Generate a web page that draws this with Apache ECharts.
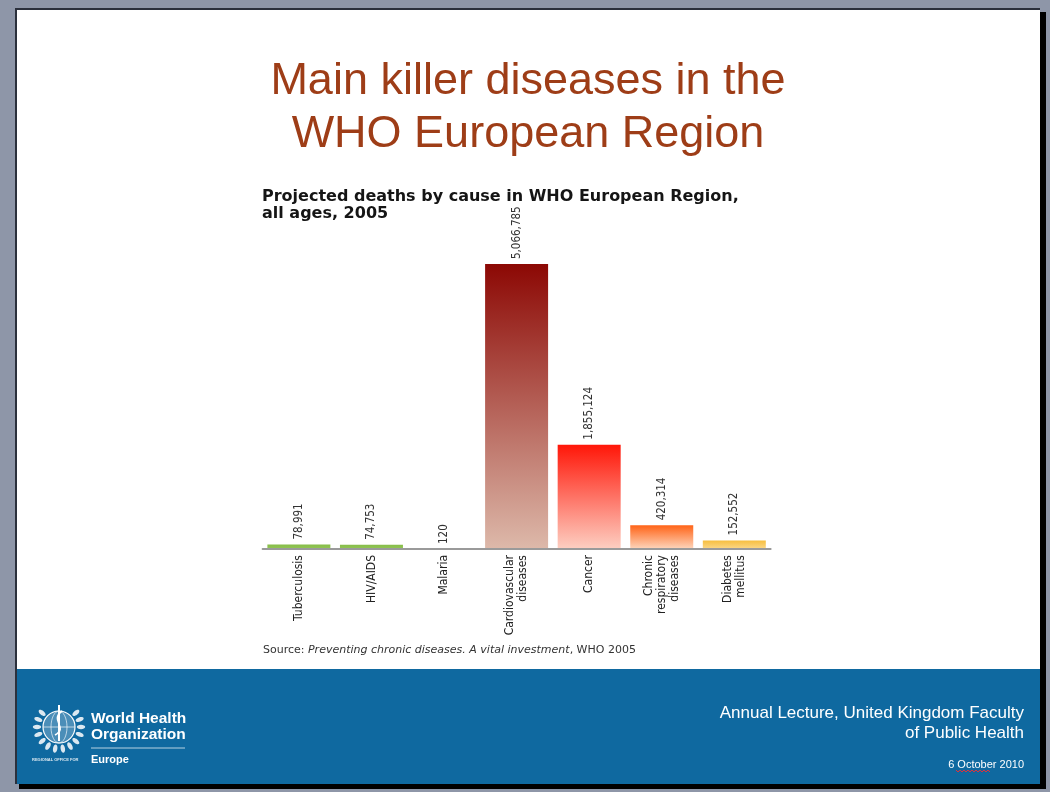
<!DOCTYPE html>
<html>
<head>
<meta charset="utf-8">
<style>
html,body{margin:0;padding:0;background:#8e96a8;}
#chart{width:1050px;height:792px;}
</style>
<script src="https://cdn.jsdelivr.net/npm/echarts@6/dist/echarts.min.js"></script>
</head>
<body>
<div id="chart"></div>
<script>
// ---- data ----
const categories = ['Tuberculosis', 'HIV/AIDS', 'Malaria', 'Cardiovascular\ndiseases', 'Cancer', 'Chronic\nrespiratory\ndiseases', 'Diabetes\nmellitus'];
const deaths = [78991, 74753, 120, 5066785, 1855124, 420314, 152552];
const titleLines = ['Main killer diseases in the', 'WHO European Region'];
const subtitleLines = ['Projected deaths by cause in WHO European Region,', 'all ages, 2005'];
const footerLines = ['Annual Lecture, United Kingdom Faculty', 'of Public Health'];
const footerDate = '6 October 2010';

// ---- styles (gradient top -> bottom per bar) ----
const barGradients = [
  ['#86bd48', '#93c557'],
  ['#86bd48', '#93c557'],
  ['#86bd48', '#93c557'],
  ['#8c0804', '#ddb9aa'],
  ['#ff1608', '#fdcfc2'],
  ['#ff6418', '#fdd6bd'],
  ['#f6be3e', '#fbd889']
];

const narrow = '"Liberation Sans Narrow", "DejaVu Sans Condensed", "Arial Narrow", sans-serif';
const arial = '"Liberation Sans", Arial, Helvetica, sans-serif';

const chart = echarts.init(document.getElementById('chart'), null, {renderer: 'canvas'});

const barData = deaths.map((v, i) => ({
  value: v,
  itemStyle: {
    color: new echarts.graphic.LinearGradient(0, 0, 0, 1, [
      {offset: 0, color: barGradients[i][0]},
      {offset: 1, color: barGradients[i][1]}
    ])
  }
}));

// leaves for the laurel of the logo
const logoCx = 59, logoCy = 727;
const leaves = [];
for (let k = 0; k < 7; k++) {
  const a = (100 + k * 20) * Math.PI / 180;
  [1, -1].forEach(side => {
    const ang = side === 1 ? a : Math.PI - a;
    leaves.push({
      type: 'ellipse',
      shape: {cx: logoCx + Math.cos(ang) * 22, cy: logoCy + Math.sin(ang) * 22, rx: 2.2, ry: 4.2},
      rotation: -(ang - Math.PI / 2),
      originX: logoCx + Math.cos(ang) * 22,
      originY: logoCy + Math.sin(ang) * 22,
      style: {fill: 'rgba(255,255,255,0.85)'},
      z: 20
    });
  });
}

const graphics = [
  // slide frame
  {type: 'rect', shape: {x: 19, y: 12, width: 1027, height: 777}, style: {fill: '#000'}, z: 0},
  {type: 'rect', shape: {x: 15, y: 8, width: 1025, height: 776}, style: {fill: '#2b303c'}, z: 1},
  {type: 'rect', shape: {x: 17, y: 10, width: 1023, height: 774}, style: {fill: '#ffffff'}, z: 2},
  // footer band
  {type: 'rect', shape: {x: 17, y: 669, width: 1023, height: 115}, style: {fill: '#0f69a0'}, z: 3},
  // title
  {type: 'text', x: 528, y: 82, style: {text: titleLines[0], font: '45px ' + arial, fill: '#9e3d17', align: 'center', verticalAlign: 'middle'}, z: 10},
  {type: 'text', x: 528, y: 135, style: {text: titleLines[1], font: '45px ' + arial, fill: '#9e3d17', align: 'center', verticalAlign: 'middle'}, z: 10},
  // chart subtitle
  {type: 'text', x: 262, y: 197, style: {text: subtitleLines[0], font: 'bold 16px "DejaVu Sans", sans-serif', fill: '#151515', align: 'left', verticalAlign: 'middle'}, z: 10},
  {type: 'text', x: 262, y: 214, style: {text: subtitleLines[1], font: 'bold 16px "DejaVu Sans", sans-serif', fill: '#151515', align: 'left', verticalAlign: 'middle'}, z: 10},
  // source
  {type: 'text', x: 263, y: 650, style: {
    text: '{n|Source: }{i|Preventing chronic diseases. A vital investment}{n|, WHO 2005}',
    align: 'left', verticalAlign: 'middle',
    rich: {
      n: {font: '11px "DejaVu Sans", sans-serif', fill: '#333'},
      i: {font: 'italic 11px "DejaVu Sans", sans-serif', fill: '#333'}
    }
  }, z: 10},
  // footer right text
  {type: 'text', x: 1024, y: 713, style: {text: footerLines[0], font: '17px ' + arial, fill: '#ffffff', align: 'right', verticalAlign: 'middle'}, z: 10},
  {type: 'text', x: 1024, y: 733, style: {text: footerLines[1], font: '17px ' + arial, fill: '#ffffff', align: 'right', verticalAlign: 'middle'}, z: 10},
  {type: 'text', x: 1024, y: 765, style: {text: footerDate, font: '11px ' + arial, fill: '#ffffff', align: 'right', verticalAlign: 'middle'}, z: 10},
  // spell-check squiggle under "October"
  {type: 'polyline', shape: {points: [[956,770],[958,772],[960,770],[962,772],[964,770],[966,772],[968,770],[970,772],[972,770],[974,772],[976,770],[978,772],[980,770],[982,772],[984,770],[986,772],[988,770],[990,772]]}, style: {stroke: '#e0303a', lineWidth: 1, fill: null}, z: 11},
  // WHO logo text
  {type: 'text', x: 91, y: 719, style: {text: 'World Health', font: 'bold 15.5px ' + arial, fill: '#ffffff', align: 'left', verticalAlign: 'middle'}, z: 10},
  {type: 'text', x: 91, y: 735, style: {text: 'Organization', font: 'bold 15.5px ' + arial, fill: '#ffffff', align: 'left', verticalAlign: 'middle'}, z: 10},
  {type: 'line', shape: {x1: 91, y1: 748, x2: 185, y2: 748}, style: {stroke: 'rgba(255,255,255,0.7)', lineWidth: 1}, z: 10},
  {type: 'text', x: 91, y: 760, style: {text: 'Europe', font: 'bold 11px ' + arial, fill: '#ffffff', align: 'left', verticalAlign: 'middle'}, z: 10},
  {type: 'text', x: 32, y: 760, style: {text: 'REGIONAL OFFICE FOR', font: 'bold 4px ' + arial, fill: 'rgba(255,255,255,0.85)', align: 'left', verticalAlign: 'middle'}, z: 10},
  // WHO emblem (simplified)
  {type: 'circle', shape: {cx: logoCx, cy: logoCy, r: 16}, style: {fill: 'rgba(255,255,255,0.25)', stroke: '#ffffff', lineWidth: 1.2}, z: 20},
  {type: 'ellipse', shape: {cx: logoCx, cy: logoCy, rx: 8, ry: 16}, style: {fill: null, stroke: 'rgba(255,255,255,0.8)', lineWidth: 0.8}, z: 20},
  {type: 'line', shape: {x1: logoCx - 16, y1: logoCy, x2: logoCx + 16, y2: logoCy}, style: {stroke: 'rgba(255,255,255,0.8)', lineWidth: 0.8}, z: 20},
  {type: 'line', shape: {x1: logoCx, y1: logoCy - 22, x2: logoCx, y2: logoCy + 14}, style: {stroke: '#ffffff', lineWidth: 2}, z: 21},
  {type: 'bezierCurve', shape: {x1: logoCx - 4, y1: logoCy + 8, x2: logoCx + 3, y2: logoCy - 16, cpx1: logoCx + 10, cpy1: logoCy, cpx2: logoCx - 10, cpy2: logoCy - 6}, style: {stroke: '#ffffff', lineWidth: 1.6, fill: null}, z: 21}
].concat(leaves);

const option = {
  animation: false,
  backgroundColor: '#8e96a8',
  grid: {left: 262.6, width: 508, top: 264, bottom: 243, containLabel: false},
  xAxis: {
    type: 'category',
    data: categories,
    z: 30,
    axisLine: {show: true, lineStyle: {color: '#9a9a9a', width: 2}},
    axisTick: {show: false},
    axisLabel: {
      rotate: 90,
      margin: 6,
      interval: 0,
      fontFamily: narrow,
      fontSize: 12,
      lineHeight: 13,
      color: '#222'
    }
  },
  yAxis: {
    type: 'value',
    min: 0,
    max: 'dataMax',
    show: false,
    splitLine: {show: false}
  },
  series: [{
    type: 'bar',
    data: barData,
    barWidth: 63,
    z: 25,
    label: {
      show: true,
      position: 'top',
      distance: 5,
      rotate: 90,
      align: 'left',
      verticalAlign: 'middle',
      fontFamily: narrow,
      fontSize: 11.5,
      color: '#333',
      formatter: p => p.value.toLocaleString('en-US')
    }
  }],
  graphic: {elements: graphics}
};
chart.setOption(option);
</script>
</body>
</html>
